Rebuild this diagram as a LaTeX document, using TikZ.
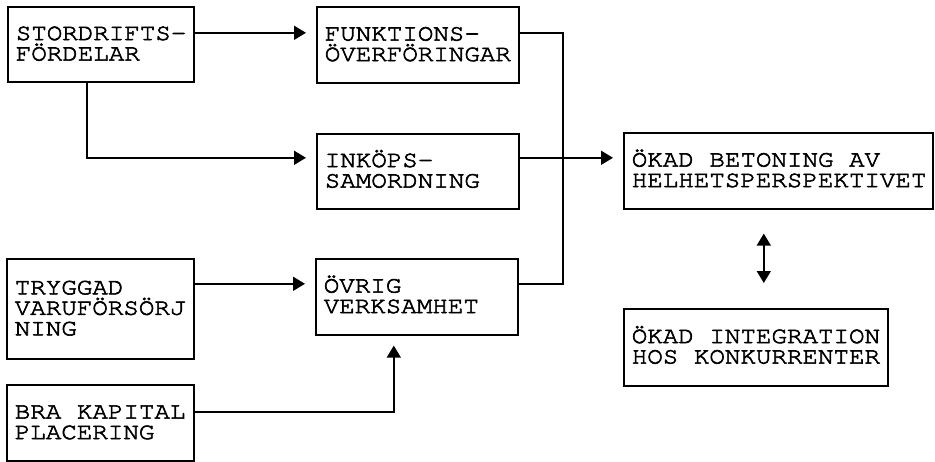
\documentclass[tikz,border=0pt]{standalone}
\usepackage{fontspec}
\usetikzlibrary{arrows.meta}
% Courier-style typewriter face, widened and darkened
\IfFontExistsTF{texgyrecursor-regular.otf}
  {\newfontfamily\typew{texgyrecursor-regular.otf}[FakeStretch=1.1,FakeBold=2.5]
   \newcommand\typewsize{\fontsize{23.5}{20.5}}}
  {\newfontfamily\typew{Liberation Mono}
   \newcommand\typewsize{\fontsize{26}{20.5}}}
\newcommand\typewtext{\typew\typewsize\selectfont
  \hyphenpenalty=10000 \exhyphenpenalty=10000 }
% one typewriter character cell of blank space
\newcommand\spc{\hspace*{15.6pt}}
% struts that fix the first-line height and last-line depth
\newcommand\tstr{\rule{0pt}{18pt}}
\newcommand\bstr{\rule[-6pt]{0pt}{6pt}}
\tikzset{
  box/.style={draw, line width=1.6pt, anchor=north west, inner xsep=8pt,
    inner ysep=0pt, align=left, font=\typewtext},
  conn/.style={line width=1.6pt},
  arr/.style={conn, -{Triangle[length=12pt,width=14pt]}, shorten >=10pt},
  dbl/.style={conn, {Triangle[length=12pt,width=14pt]}-{Triangle[length=12pt,width=14pt]}}
}
\begin{document}
\begin{tikzpicture}[x=1pt,y=-1pt]
\useasboundingbox (0,0) rectangle (935,461);

% boxes
\node[box, text width=170pt, minimum height=75pt] (A) at (7,6)
  {\tstr STORDRIFTS-\\FÖRDELAR\bstr};
\node[box, text width=186pt, minimum height=76pt] (B) at (316,6)
  {\tstr FUNKTIONS-\\ÖVERFÖRINGAR\bstr};
\node[box, text width=186pt, minimum height=75pt] (C) at (316,133)
  {\tstr INKÖPS-\\SAMORDNING\bstr};
\node[box, text width=186pt, minimum height=76pt] (D) at (315,258)
  {\tstr ÖVRIG\\VERKSAMHET\bstr};
\node[box, text width=293pt, minimum height=76pt] (E) at (623,132)
  {\tstr ÖKAD\spc BETONING\spc AV\\HELHETSPERSPEKTIVET\bstr};
\node[box, text width=248pt, minimum height=77pt] (F) at (623,308)
  {\tstr ÖKAD\spc INTEGRATION\\HOS\spc KONKURRENTER\bstr};
\node[box, text width=171pt, minimum height=100pt] (G) at (6,258)
  {\tstr TRYGGAD\\VARUFÖRSÖRJ\\NING\bstr};
\node[box, text width=171pt, minimum height=76pt] (H) at (6,384)
  {\tstr BRA\spc KAPITAL\\PLACERING\bstr};

% connection points
\coordinate (a1) at ([yshift=11.5pt]A.east);
\coordinate (a2) at ([xshift=-14pt]A.south);
\coordinate (b1) at ([yshift=12pt]B.east);
\coordinate (c1) at ([yshift=13.5pt]C.east);
\coordinate (d1) at ([yshift=13pt]D.east);
\coordinate (e1) at ([yshift=13pt]E.west);
\coordinate (g1) at ([yshift=25pt]G.east);
\coordinate (h1) at ([yshift=11pt]H.east);
\coordinate (dx) at ([xshift=-23pt]D.south);
\coordinate (j) at (563,0);

% connectors
\draw[arr] (a1) -- (a1 -| B.west);
\draw[arr] (a2) |- (c1 -| C.west);
\draw[conn] (b1) -| (j |- d1) -- (d1);
\draw[arr] (c1) -- (e1);
\draw[arr] (g1) -- (g1 -| D.west);
\draw[arr] (h1) -| (dx);
\draw[dbl, shorten <=24pt, shorten >=25pt] ([xshift=-14.5pt]E.south) -- ([xshift=-14.5pt]E.south |- F.north);
\end{tikzpicture}
\end{document}
